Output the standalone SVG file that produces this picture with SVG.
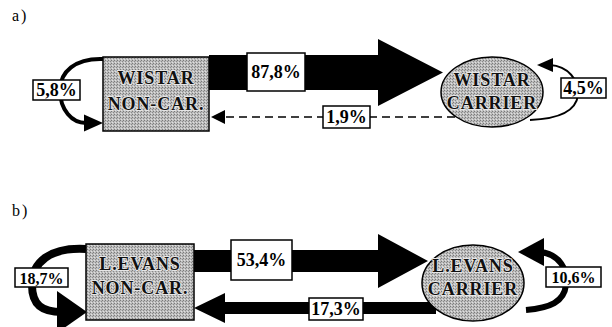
<svg xmlns="http://www.w3.org/2000/svg" width="612" height="327" viewBox="0 0 612 327" font-family="Liberation Serif, Times New Roman, serif">
<defs>
  <pattern id="dither" width="3" height="3" patternUnits="userSpaceOnUse">
    <rect width="3" height="3" fill="#bdbdbd"/>
    <rect x="0" y="0" width="1" height="1" fill="#7a7a7a"/>
    <rect x="2" y="1" width="1" height="1" fill="#8a8a8a"/>
    <rect x="1" y="2" width="1" height="1" fill="#e0e0e0"/>
  </pattern>
</defs>
<style>
.bg{fill:#fff}
.node{fill:url(#dither);stroke:#000;stroke-width:1.5}
.ntxt{font-family:'Liberation Serif','Times New Roman',serif;font-weight:bold;font-size:18px;letter-spacing:0.9px;text-anchor:middle;fill:#111;stroke:#e6e6e6;stroke-width:1.8px;paint-order:stroke}
.lbl{fill:#fff;stroke:#000;stroke-width:1.5}
.ltxt{font-family:'Liberation Serif','Times New Roman',serif;font-weight:bold;font-size:18px;text-anchor:middle;fill:#000}
.ptxt{font-family:'Liberation Serif','Times New Roman',serif;font-size:16px;fill:#000;letter-spacing:2px}
.flow{fill:#000}
.loop{fill:none;stroke:#000}
.dash{fill:none;stroke:#000;stroke-width:1.5;stroke-dasharray:8 5}
</style>
<rect class="bg" x="0" y="0" width="612" height="327"/>
<text class="ptxt" x="12" y="21">a)</text>
<text class="ptxt" x="12" y="216">b)</text>

<g id="connectors">
  <polygon id="a-noncar-to-carrier" class="flow" points="209,55 378,55 378,39 443,72.5 378,106 378,90 209,90"/>
  <g id="a-carrier-to-noncar">
    <line class="dash" x1="455" y1="117" x2="224" y2="117"/>
    <polygon class="flow" points="211,117 225,110 225,124"/>
  </g>
  <g id="a-noncar-loop">
    <path class="loop" stroke-width="4" d="M103,59 C75,58 60,72 60,90 C60,110 72,123 86,123"/>
    <polygon class="flow" points="103,123 84,114.5 84,131.5"/>
  </g>
  <g id="a-carrier-loop">
    <path class="loop" stroke-width="2" d="M550,65 C568,66 579,80 578,95 C576,112 556,119 530,120"/>
    <polygon class="flow" points="537,65 553,58 553,72"/>
  </g>
  <polygon id="b-noncar-to-carrier" class="flow" points="194,250 378,250 378,234 428,261 378,288 378,272 194,272"/>
  <polygon id="b-carrier-to-noncar" class="flow" points="194,308 225,293 225,302 436,302 436,314 225,314 225,323"/>
  <g id="b-noncar-loop">
    <path class="loop" stroke-width="8" d="M86,249 C50,247 32,262 32,285 C32,305 42,312 62,312"/>
    <polygon class="flow" points="87,312 57,291 57,333"/>
  </g>
  <g id="b-carrier-loop">
    <path class="loop" stroke-width="6" d="M540,252 C560,254 568,270 566,285 C564,302 550,308 526,310"/>
    <polygon class="flow" points="518,252 544,238 544,266"/>
  </g>
</g>

<g id="wistar-noncar">
  <rect class="node" x="103" y="57" width="106" height="74"/>
  <text class="ntxt" x="156" y="84">WISTAR</text>
  <text class="ntxt" x="156" y="110">NON-CAR.</text>
</g>
<g id="wistar-carrier">
  <ellipse class="node" cx="492" cy="92" rx="51" ry="35"/>
  <text class="ntxt" x="492" y="86">WISTAR</text>
  <text class="ntxt" x="492" y="109">CARRIER</text>
</g>
<g id="levans-noncar">
  <rect class="node" x="86" y="244" width="108" height="76"/>
  <text class="ntxt" x="140" y="270">L.EVANS</text>
  <text class="ntxt" x="140" y="294">NON-CAR.</text>
</g>
<g id="levans-carrier">
  <ellipse class="node" cx="473" cy="283" rx="51" ry="38"/>
  <text class="ntxt" x="473" y="272">L.EVANS</text>
  <text class="ntxt" x="473" y="295">CARRIER</text>
</g>

<g id="labels">
  <g id="lbl-878"><rect class="lbl" x="247" y="53" width="58" height="38"/><text class="ltxt" x="276" y="78">87,8%</text></g>
  <g id="lbl-19"><rect class="lbl" x="323" y="106" width="47" height="22"/><text class="ltxt" x="346.5" y="123">1,9%</text></g>
  <g id="lbl-58"><rect class="lbl" x="33" y="80" width="47" height="20"/><text class="ltxt" x="56.5" y="96">5,8%</text></g>
  <g id="lbl-45"><rect class="lbl" x="561" y="78" width="45" height="20"/><text class="ltxt" x="583.5" y="94">4,5%</text></g>
  <g id="lbl-534"><rect class="lbl" x="231" y="240" width="61" height="40"/><text class="ltxt" x="261.5" y="266">53,4%</text></g>
  <g id="lbl-173"><rect class="lbl" x="309" y="298" width="54" height="22"/><text class="ltxt" x="336" y="315">17,3%</text></g>
  <g id="lbl-187"><rect class="lbl" x="15" y="268" width="53" height="19"/><text class="ltxt" x="41.5" y="283.5" style="font-size:16px">18,7%</text></g>
  <g id="lbl-106"><rect class="lbl" x="546" y="267" width="55" height="20"/><text class="ltxt" x="573.5" y="283" style="font-size:16px">10,6%</text></g>
</g>
</svg>
